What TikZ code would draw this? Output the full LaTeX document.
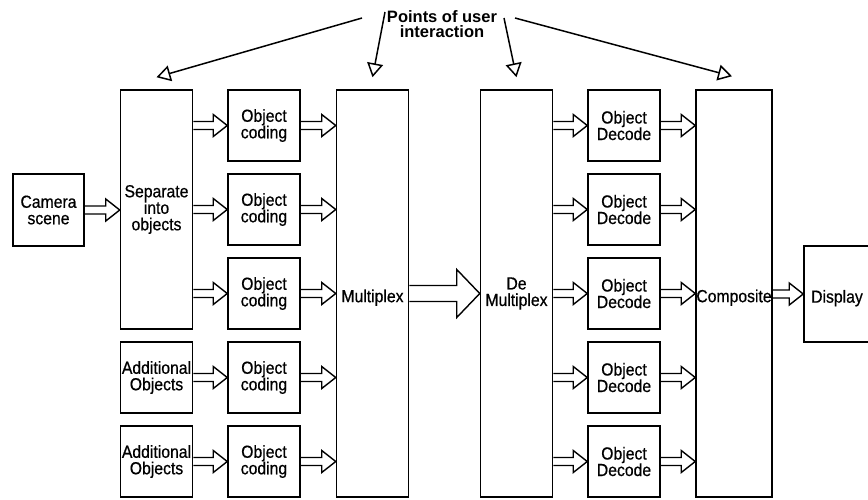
\documentclass[tikz,border=0pt]{standalone}
\usepackage{fontspec}
\setmainfont{Liberation Sans}
\newfontfamily\boxfont[FakeStretch=0.9, FakeBold=0.6]{Liberation Sans}
\usetikzlibrary{arrows.meta,calc}

% hollow block arrow: start, end, shaft half, head half, head length
\newcommand{\blockarrow}[5]{%
  \draw[line width=1.4pt, line join=miter] let \p1=(#1), \p2=(#2) in
    (\x1,\y1+#3pt) -- (\x2-#5pt,\y1+#3pt) -- (\x2-#5pt,\y1+#4pt) -- (\x2,\y1)
    -- (\x2-#5pt,\y1-#4pt) -- (\x2-#5pt,\y1-#3pt) -- (\x1,\y1-#3pt);}

\begin{document}
\begin{tikzpicture}[x=1pt, y=-1pt,
    box/.style={rectangle, draw, line width=1.5pt, minimum width=72pt, minimum height=71pt, inner sep=0pt, align=center, font=\boxfont\fontsize{17.5}{16.5}\selectfont, execute at begin node={\rule{0pt}{21pt}}},
    tallbox/.style={box, minimum height=407pt},
    pointer/.style={line width=1.5pt, -{Triangle[open, length=14pt, width=16pt]}}
]
    \useasboundingbox (0,0) rectangle (868,499);

    % Title
    \node[font=\bfseries\fontsize{16.5}{15}\selectfont, align=center] (title) at (442,24) {Points of user\\interaction};

    % Input side
    \node[box, minimum width=71pt, minimum height=72pt] (camera) at (48.5,210) {Camera\\scene};
    \node[box, minimum height=239pt] (separate) at (156.5,209.5) {Separate\\into\\objects};
    \node[box] (add1) at (156.5,377.5) {Additional\\Objects};
    \node[box] (add2) at (156.5,461.5) {Additional\\Objects};

    % Coders
    \node[box] (code1) at (264,125.5) {Object\\coding};
    \node[box] (code2) at (264,209.5) {Object\\coding};
    \node[box] (code3) at (264,293.5) {Object\\coding};
    \node[box] (code4) at (264,377.5) {Object\\coding};
    \node[box] (code5) at (264,461.5) {Object\\coding};

    % Channel
    \node[tallbox] (mux) at (372.5,293.5) {Multiplex};
    \node[tallbox] (demux) at (516.5,293.5) {De\\Multiplex};

    % Decoders
    \node[box] (dec1) at (624,125.5) {Object\\Decode};
    \node[box] (dec2) at (624,209.5) {Object\\Decode};
    \node[box] (dec3) at (624,293.5) {Object\\Decode};
    \node[box] (dec4) at (624,377.5) {Object\\Decode};
    \node[box] (dec5) at (624,461.5) {Object\\Decode};

    % Output side
    \node[tallbox, minimum width=76pt] (comp) at (734,293.5) {Composite};
    \node[box, minimum width=66pt, minimum height=96pt] (display) at (837,294) {Display};

    % Interaction pointers
    \coordinate (from1) at (362,18);
    \coordinate (from2) at (385,12);
    \coordinate (from3) at (504,18);
    \coordinate (from4) at (515,18);
    \coordinate (tip1) at ($(separate.north)+(0,-12)$);
    \coordinate (tip2) at ($(mux.north)+(0,-12)$);
    \coordinate (tip3) at ($(demux.north)+(0,-12)$);
    \coordinate (tip4) at ($(comp.north)+(-2,-13)$);
    \draw[pointer] (from1) -- (tip1);
    \draw[pointer] (from2) -- (tip2);
    \draw[pointer] (from3) -- (tip3);
    \draw[pointer] (from4) -- (tip4);

    % Arrows
    \blockarrow{camera.east}{separate.west}{4}{11}{14}
    \blockarrow{separate.east |- code1}{code1.west}{4}{11}{14}
    \blockarrow{separate.east |- code2}{code2.west}{4}{11}{14}
    \blockarrow{separate.east |- code3}{code3.west}{4}{11}{14}
    \blockarrow{add1.east}{code4.west}{4}{11}{14}
    \blockarrow{add2.east}{code5.west}{4}{11}{14}
    \blockarrow{code1.east}{mux.west}{4}{11}{14}
    \blockarrow{code2.east}{mux.west}{4}{11}{14}
    \blockarrow{code3.east}{mux.west}{4}{11}{14}
    \blockarrow{code4.east}{mux.west}{4}{11}{14}
    \blockarrow{code5.east}{mux.west}{4}{11}{14}
    \blockarrow{mux.east}{demux.west}{8}{24}{23}
    \blockarrow{demux.east |- dec1}{dec1.west}{4}{11}{14}
    \blockarrow{demux.east |- dec2}{dec2.west}{4}{11}{14}
    \blockarrow{demux.east |- dec3}{dec3.west}{4}{11}{14}
    \blockarrow{demux.east |- dec4}{dec4.west}{4}{11}{14}
    \blockarrow{demux.east |- dec5}{dec5.west}{4}{11}{14}
    \blockarrow{dec1.east}{comp.west}{4}{11}{14}
    \blockarrow{dec2.east}{comp.west}{4}{11}{14}
    \blockarrow{dec3.east}{comp.west}{4}{11}{14}
    \blockarrow{dec4.east}{comp.west}{4}{11}{14}
    \blockarrow{dec5.east}{comp.west}{4}{11}{14}
    \blockarrow{comp.east |- display}{display.west}{4}{11}{14}
\end{tikzpicture}
\end{document}
